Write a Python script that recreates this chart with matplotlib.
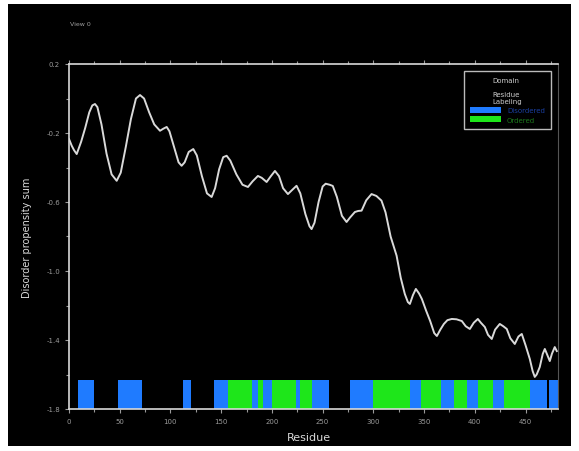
import matplotlib
matplotlib.use("Agg")
import matplotlib.pyplot as plt
from matplotlib.patches import Rectangle, Patch
from matplotlib.ticker import MultipleLocator

# Disorder propensity profile (residue, summed score)
residue = [0, 2.7, 5, 7.6, 12, 16, 20, 23, 25.6, 28, 32, 37, 42, 47, 51, 56, 61,
           66, 70, 74, 79, 84, 89.7, 93, 96.3, 99, 104, 108, 111, 114, 118,
           122.5, 126, 131, 136, 140.6, 144, 148, 152, 155.4, 159, 165, 171,
           176.4, 181, 186.2, 190, 194.8, 199, 203, 207, 211, 215.8, 220, 224.3,
           228, 233, 237, 239.1, 242, 246, 250, 253, 257, 260, 264, 269, 273.6,
           277, 281.8, 285, 288.4, 293, 298.2, 303, 308, 312, 317, 322.9, 327,
           331, 334, 336, 339, 341.9, 345, 347.8, 352, 356, 360, 362.6, 366,
           369.5, 373, 377.3, 382, 387.2, 391, 395.1, 399, 403, 406, 409.9, 413,
           416.7, 420, 424.6, 428, 431.5, 435, 439.4, 443, 446.3, 450, 454.2,
           457, 459.1, 461, 464, 467, 469, 471, 473.9, 476, 478.8, 480.8]
score = [-0.235, -0.274, -0.3, -0.322, -0.25, -0.17, -0.08, -0.04, -0.032, -0.05,
         -0.15, -0.32, -0.44, -0.477, -0.43, -0.28, -0.12, 0.0, 0.02, 0.0,
         -0.08, -0.15, -0.187, -0.175, -0.165, -0.19, -0.29, -0.37, -0.39,
         -0.37, -0.31, -0.293, -0.33, -0.45, -0.55, -0.571, -0.52, -0.41,
         -0.34, -0.332, -0.36, -0.44, -0.5, -0.513, -0.48, -0.449, -0.46,
         -0.484, -0.45, -0.42, -0.45, -0.52, -0.554, -0.53, -0.506, -0.55,
         -0.67, -0.74, -0.757, -0.72, -0.6, -0.51, -0.494, -0.5, -0.507,
         -0.57, -0.68, -0.716, -0.69, -0.658, -0.652, -0.65, -0.59, -0.554,
         -0.565, -0.592, -0.66, -0.8, -0.911, -1.04, -1.133, -1.18, -1.191,
         -1.14, -1.104, -1.13, -1.162, -1.23, -1.29, -1.36, -1.377, -1.34,
         -1.307, -1.285, -1.278, -1.28, -1.29, -1.32, -1.336, -1.3, -1.278,
         -1.3, -1.325, -1.37, -1.394, -1.34, -1.307, -1.32, -1.336, -1.39,
         -1.423, -1.38, -1.365, -1.43, -1.51, -1.58, -1.614, -1.6, -1.557,
         -1.48, -1.452, -1.48, -1.522, -1.48, -1.441, -1.464]

# Residue segments shown in the annotation track
blue_start = [9, 48, 112, 143, 180, 191, 224, 240, 277, 336, 367, 392, 418, 454, 473]
blue_end = [25, 72, 120, 157, 186, 200, 228, 256, 300, 347, 379, 403, 429, 471, 482]
green_start = [157, 186, 200, 228, 300, 347, 379, 403, 429]
green_end = [180, 191, 224, 240, 336, 367, 392, 418, 454]
track_bottom = -1.8
track_top = -1.63

y_ticks = [0.2, -0.2, -0.6, -1.0, -1.4, -1.8]
x_ticks = [0, 50, 100, 150, 200, 250, 300, 350, 400, 450]

blue = "#1f7bff"
green = "#1ee61a"
fg = "#d9d9d9"

fig = plt.figure(figsize=(5.79, 4.52), dpi=100, facecolor="white")
fig.patches.append(Rectangle((8 / 579, 5 / 452), 563 / 579, 442 / 452,
                             transform=fig.transFigure, facecolor="black",
                             edgecolor="none", zorder=-10))
ax = fig.add_axes([69 / 579, 1 - 410 / 452, 489 / 579, 345 / 452])
ax.set_facecolor("black")

for s, e in zip(blue_start, blue_end):
    ax.add_patch(Rectangle((s, track_bottom), e - s, track_top - track_bottom,
                           facecolor=blue, edgecolor="none", zorder=1))
for s, e in zip(green_start, green_end):
    ax.add_patch(Rectangle((s, track_bottom), e - s, track_top - track_bottom,
                           facecolor=green, edgecolor="none", zorder=1))

ax.plot(residue, score, color=fg, lw=1.4, solid_joinstyle="round", zorder=3)

ax.set_xlim(0, 482)
ax.set_ylim(-1.8, 0.2)
ax.set_xticks(x_ticks)
ax.set_yticks(y_ticks)
ax.set_yticklabels([f"{v:.1f}" for v in y_ticks])
ax.yaxis.set_minor_locator(MultipleLocator(0.2))
ax.xaxis.set_minor_locator(MultipleLocator(25))
ax.tick_params(colors="#9a9a9a", labelsize=5, length=3, width=0.8,
               direction="out", top=True, which="both")
ax.tick_params(which="minor", length=2)
for side in ["left", "bottom", "top"]:
    ax.spines[side].set_color(fg)
    ax.spines[side].set_linewidth(1.2)
ax.spines["right"].set_color("#555555")
ax.spines["right"].set_linewidth(0.8)

ax.set_xlabel("Residue", color=fg, fontsize=8, labelpad=6, x=0.49)
ax.set_ylabel("Disorder propensity sum", color=fg, fontsize=7, labelpad=10)

fig.text(70 / 579, 1 - 25 / 452, "View 0", color="#a0a0a0", fontsize=4.5,
         va="center")

handles = [Patch(facecolor=blue, edgecolor="none"),
           Patch(facecolor=green, edgecolor="none")]
leg = ax.legend(handles, ["Disordered", "Ordered"], loc="upper right",
                bbox_to_anchor=(0.993, 0.99), title="Domain\n\nResidue\nLabeling",
                fontsize=5, title_fontsize=5, facecolor="black",
                edgecolor="#bbbbbb", framealpha=1, fancybox=False,
                handlelength=4.5, handleheight=1.0, borderpad=0.9,
                labelspacing=0.4)
leg.get_title().set_color("#cccccc")
leg.get_texts()[0].set_color("#1a3fa0")
leg.get_texts()[1].set_color("#1c7a1c")

fig.savefig("out.png", dpi=100, facecolor="white")
